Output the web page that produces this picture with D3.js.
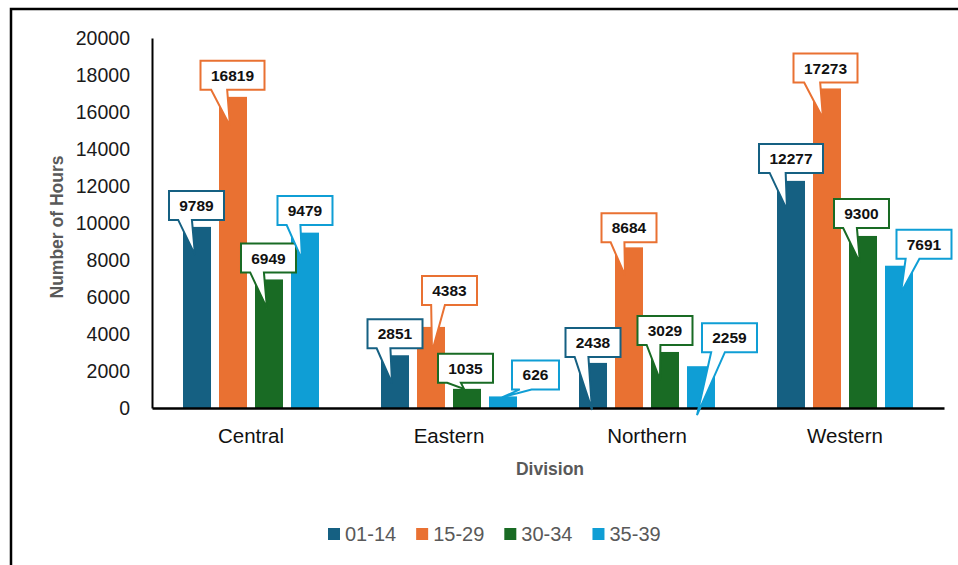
<!DOCTYPE html>
<html>
<head>
<meta charset="utf-8">
<script src="https://cdn.jsdelivr.net/npm/d3@7"></script>
<style>
  body { margin: 0; background: #fff; }
  svg { display: block; }
  text { font-family: "Liberation Sans", Arial, sans-serif; }
</style>
</head>
<body>
<svg id="chart" width="958" height="565"></svg>
<script>
// ---- data ----
const divisions = ["Central", "Eastern", "Northern", "Western"];
const ageGroups = ["01-14", "15-29", "30-34", "35-39"];
const hours0114 = [9789, 2851, 2438, 12277];
const hours1529 = [16819, 4383, 8684, 17273];
const hours3034 = [6949, 1035, 3029, 9300];
const hours3539 = [9479, 626, 2259, 7691];
const yTickValues = [0, 2000, 4000, 6000, 8000, 10000, 12000, 14000, 16000, 18000, 20000];

// ---- styling / layout ----
const seriesColors = ["#156082", "#E97132", "#196B24", "#0F9ED5"];
// callout placement per series & division:
// [box x-offset, gap between box and bar top, pointer x-offset, pointer depth below bar top] (px)
const calloutPlacement = [
  [[-0.5, 7, -2, 28], [0, 7, -3, 28], [0, 6, -1, 47], [0, 8, -4, 29]],
  [[-0.5, 7, -3, 29], [18.5, 22, 1, 25], [0, 5, -4, 28], [-1.5, 6, -4, 30]],
  [[-0.5, 7, -2, 29], [-1.5, 6, -3, 0], [0, 7, -5, 28], [-1.5, 8, -3, 27]],
  [[0, 7.6, -3, 27], [32.5, 7, -1, 1], [28.5, 14, -4, 49], [25, 7, 2, 27]]
];

const series = ageGroups.map((g, i) => ({
  group: g,
  values: [hours0114, hours1529, hours3034, hours3539][i],
  color: seriesColors[i]
}));

const svg = d3.select("#chart");

// outer frame
svg.append("rect")
  .attr("x", 11).attr("y", 9)
  .attr("width", 1000).attr("height", 1000)
  .attr("fill", "none").attr("stroke", "#000").attr("stroke-width", 2.5);

// scales
const x0 = d3.scaleBand().domain(divisions).range([152, 944]).padding(0);
const bw = x0.bandwidth();
const x1 = d3.scaleBand().domain(ageGroups)
  .range([bw * 0.1566, bw * (1 - 0.1566)])
  .paddingInner(0.2222).paddingOuter(0);
const y = d3.scaleLinear().domain([0, 20000]).range([408, 38]);

// bars
const groups = svg.append("g").selectAll("g")
  .data(series).join("g")
  .attr("fill", d => d.color);
groups.selectAll("rect")
  .data(d => d.values.map((v, ci) => ({ v, ci, group: d.group })))
  .join("rect")
  .attr("x", d => x0(divisions[d.ci]) + x1(d.group))
  .attr("width", x1.bandwidth())
  .attr("y", d => y(d.v))
  .attr("height", d => y(0) - y(d.v));

// y axis
const yAxis = svg.append("g")
  .attr("transform", "translate(152,0)")
  .call(d3.axisLeft(y).tickValues(yTickValues).tickFormat(d3.format("d"))
    .tickSize(0).tickPadding(22));
yAxis.select(".domain").attr("stroke", "#000").attr("stroke-width", 2);
yAxis.selectAll("text").attr("font-size", 19.5).attr("fill", "#1a1a1a");

// x axis
const xAxis = svg.append("g")
  .attr("transform", "translate(0,408)")
  .call(d3.axisBottom(x0).tickSize(0).tickPadding(20));
xAxis.select(".domain").attr("stroke", "#000").attr("stroke-width", 2.5);
xAxis.selectAll("text").attr("font-size", 20.5).attr("fill", "#111");

// axis titles
svg.append("text")
  .attr("transform", "translate(63,227) rotate(-90)")
  .attr("text-anchor", "middle")
  .attr("font-size", 17.5).attr("font-weight", "bold").attr("fill", "#595959")
  .text("Number of Hours");
svg.append("text")
  .attr("x", 550).attr("y", 475)
  .attr("text-anchor", "middle")
  .attr("font-size", 17.5).attr("font-weight", "bold").attr("fill", "#595959")
  .text("Division");

// callout data labels
const calloutLayer = svg.append("g");
series.forEach((s, si) => {
  s.values.forEach((v, ci) => {
    const cx = x0(divisions[ci]) + x1(s.group) + x1.bandwidth() / 2;
    const top = y(v);
    const [bdx, gap, tdx, depth] = calloutPlacement[si][ci];
    const g = calloutLayer.append("g");
    const label = g.append("text")
      .attr("text-anchor", "middle")
      .attr("font-size", 15.5).attr("font-weight", "bold").attr("fill", "#111")
      .text(v);
    const tw = label.node().getComputedTextLength();
    const w = Math.round(tw + 21), h = 29;
    const bx = cx + bdx;
    const bottom = top - gap, tp = bottom - h;
    const l = bx - w / 2, r = bx + w / 2;
    const tipX = cx + tdx, tipY = top + depth;
    const [f1, f2] = tipX < bx ? [2 / 12, 5 / 12] : [7 / 12, 10 / 12];
    const p = d3.path();
    p.moveTo(l, tp);
    p.lineTo(r, tp);
    p.lineTo(r, bottom);
    p.lineTo(l + w * f2, bottom);
    p.lineTo(tipX, tipY);
    p.lineTo(l + w * f1, bottom);
    p.lineTo(l, bottom);
    p.closePath();
    g.insert("path", "text")
      .attr("d", p.toString())
      .attr("fill", "#fff")
      .attr("stroke", s.color)
      .attr("stroke-width", 2)
      .attr("stroke-linejoin", "miter");
    label.attr("x", bx).attr("y", tp + h / 2).attr("dy", "0.36em");
  });
});

// legend
const legend = svg.append("g");
let lx = 328;
series.forEach(s => {
  legend.append("rect")
    .attr("x", lx).attr("y", 528).attr("width", 12).attr("height", 12)
    .attr("fill", s.color);
  const t = legend.append("text")
    .attr("x", lx + 17).attr("y", 534).attr("dy", "0.36em")
    .attr("font-size", 20).attr("fill", "#595959")
    .text(s.group);
  lx += 17 + t.node().getComputedTextLength() + 20;
});
</script>
</body>
</html>
